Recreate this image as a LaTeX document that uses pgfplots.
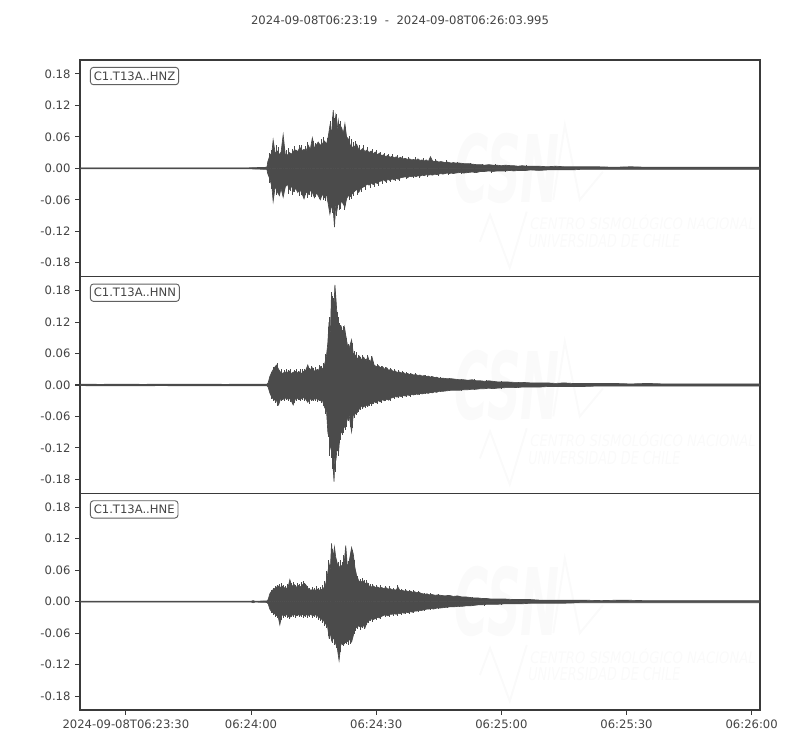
\documentclass[border=0pt]{standalone}
\usepackage{fontspec}
\setmainfont{DejaVu Sans}
\usepackage{pgfplots}
\usepackage{pgfplotstable}
\pgfplotsset{compat=1.18}

\definecolor{wave}{HTML}{4B4B4B}
\definecolor{txtc}{HTML}{444444}
\definecolor{framec}{HTML}{3A3A3A}
\definecolor{wmc}{HTML}{FAFAFA}
\newcommand{\tfont}{\fontsize{8.7}{10}\selectfont}

% seconds after 06:23:19, upper and lower envelope of each trace
\pgfplotstableread{
t up lo
0 0.0008 -0.0008
10 0.0008 -0.0008
20 0.0008 -0.0008
30 0.0008 -0.0008
40 0.0008 -0.0008
44.8 0.002 -0.002
45.0 0.012 -0.010
45.5 0.024 -0.020
46.0 0.030 -0.035
46.3 0.054 -0.063
46.8 0.028 -0.034
47.3 0.033 -0.045
47.8 0.026 -0.052
48.2 0.031 -0.038
48.7 0.064 -0.055
49.2 0.027 -0.036
49.7 0.025 -0.030
50.2 0.030 -0.040
50.7 0.027 -0.034
51.2 0.033 -0.044
51.7 0.035 -0.038
52.2 0.032 -0.046
52.7 0.040 -0.040
53.2 0.034 -0.048
53.7 0.036 -0.058
54.2 0.033 -0.044
54.7 0.044 -0.050
55.2 0.036 -0.042
55.7 0.058 -0.046
56.2 0.038 -0.056
56.7 0.045 -0.047
57.1 0.050 -0.052
57.6 0.044 -0.060
58.1 0.047 -0.049
58.6 0.052 -0.056
59.1 0.046 -0.050
59.5 0.060 -0.068
59.9 0.081 -0.087
60.3 0.066 -0.072
60.7 0.111 -0.078
61.0 0.080 -0.112
61.3 0.100 -0.070
61.6 0.072 -0.080
61.9 0.092 -0.066
62.3 0.070 -0.072
62.7 0.078 -0.062
63.1 0.066 -0.068
63.5 0.085 -0.074
63.9 0.060 -0.058
64.3 0.056 -0.052
64.8 0.044 -0.054
65.3 0.040 -0.048
65.8 0.042 -0.044
66.3 0.046 -0.040
66.8 0.036 -0.046
67.3 0.034 -0.038
67.8 0.038 -0.036
68.3 0.032 -0.034
68.8 0.035 -0.030
69.3 0.030 -0.032
69.8 0.033 -0.028
70.3 0.028 -0.031
70.8 0.031 -0.027
71.3 0.026 -0.029
71.8 0.029 -0.025
72.3 0.024 -0.024
72.8 0.026 -0.022
73.3 0.022 -0.025
73.8 0.025 -0.021
74.3 0.021 -0.023
74.8 0.023 -0.020
75.3 0.020 -0.022
75.8 0.022 -0.019
76.3 0.019 -0.021
76.8 0.021 -0.018
77.5 0.018 -0.017
78.0 0.019 -0.016
78.5 0.017 -0.018
79.0 0.018 -0.015
79.5 0.016 -0.016
80.0 0.017 -0.014
80.5 0.015 -0.016
81.0 0.018 -0.014
81.5 0.015 -0.015
82.0 0.016 -0.013
82.5 0.014 -0.014
83.0 0.016 -0.012
83.5 0.013 -0.013
84.0 0.022 -0.012
84.5 0.014 -0.013
85.0 0.013 -0.011
85.5 0.014 -0.012
86.0 0.012 -0.011
86.5 0.013 -0.010
87.0 0.012 -0.011
87.5 0.011 -0.010
88.0 0.012 -0.009
88.5 0.011 -0.010
89.0 0.010 -0.009
89.5 0.011 -0.010
90.0 0.010 -0.009
91 0.010 -0.008
92 0.009 -0.009
93 0.009 -0.008
94 0.008 -0.007
95 0.007 -0.008
96 0.007 -0.006
97 0.006 -0.006
98 0.007 -0.005
99 0.006 -0.006
100 0.006 -0.005
101 0.005 -0.005
102 0.006 -0.005
103 0.005 -0.004
104 0.005 -0.005
105 0.004 -0.004
106 0.005 -0.004
107 0.004 -0.004
108 0.004 -0.003
110 0.004 -0.004
112 0.003 -0.003
114 0.004 -0.003
116 0.003 -0.003
118 0.003 -0.003
120 0.003 -0.002
124 0.003 -0.002
128 0.002 -0.002
132 0.003 -0.002
136 0.002 -0.002
140 0.002 -0.002
150 0.002 -0.002
163 0.002 -0.002
}\hnz

% single peaks of HNZ
\pgfplotstableread{
t y
45.3 0.030
45.8 0.035
47.0 0.045
47.6 0.040
49.0 0.038
49.5 0.034
50.0 0.038
51.0 0.036
51.5 0.042
52.5 0.045
53.0 0.044
54.0 0.042
54.5 0.050
55.5 0.047
56.0 0.052
56.5 0.048
57.8 0.056
58.4 0.060
59.3 0.058
60.1 0.090
60.5 0.098
61.1 0.095
61.5 0.104
62.1 0.085
62.5 0.090
63.3 0.080
63.7 0.078
64.5 0.062
65.0 0.055
65.5 0.050
66.0 0.052
67.0 0.045
68.0 0.044
69.0 0.040
70.0 0.037
71.0 0.035
72.0 0.031
73.0 0.030
74.0 0.028
75.0 0.027
76.0 0.025
77.2 0.023
78.8 0.022
80.3 0.021
82.2 0.019
85.3 0.017
87.8 0.015
90.5 0.013
93.5 0.011
96.5 0.009
99.5 0.008
103 0.007
107 0.006
45.3 -0.028
45.8 -0.040
47.0 -0.050
47.5 -0.048
48.5 -0.046
49.0 -0.044
50.0 -0.048
50.5 -0.043
51.0 -0.050
51.5 -0.045
52.5 -0.052
53.0 -0.050
54.0 -0.050
54.5 -0.056
55.0 -0.050
55.5 -0.054
56.5 -0.054
57.3 -0.058
58.3 -0.060
58.8 -0.062
59.7 -0.080
60.5 -0.085
60.9 -0.100
61.4 -0.090
62.1 -0.080
62.5 -0.078
63.3 -0.080
63.7 -0.070
64.5 -0.060
65.0 -0.058
65.5 -0.052
66.5 -0.050
67.5 -0.045
68.5 -0.042
69.5 -0.038
70.5 -0.036
71.5 -0.033
72.5 -0.030
73.5 -0.028
74.5 -0.026
75.5 -0.025
76.5 -0.024
78.2 -0.021
79.8 -0.019
81.3 -0.018
83.2 -0.016
85.8 -0.014
88.2 -0.012
91.5 -0.011
94.5 -0.009
98.5 -0.008
102 -0.007
106 -0.006
}\hnzpk

\pgfplotstableread{
t up lo
0 0.0015 -0.0012
5 0.0012 -0.0015
10 0.0016 -0.0013
15 0.0012 -0.0014
20 0.0015 -0.0012
25 0.0013 -0.0016
30 0.0015 -0.0013
35 0.0012 -0.0015
40 0.0016 -0.0013
44.8 0.0015 -0.0015
45.1 0.004 -0.004
45.5 0.016 -0.015
46.0 0.025 -0.024
46.5 0.032 -0.028
47.1 0.038 -0.030
47.6 0.030 -0.038
48.1 0.024 -0.026
48.6 0.022 -0.028
49.1 0.025 -0.024
49.6 0.023 -0.027
50.1 0.027 -0.025
50.6 0.022 -0.029
51.1 0.024 -0.038
51.6 0.026 -0.027
52.1 0.023 -0.025
52.6 0.025 -0.028
53.1 0.022 -0.026
53.6 0.026 -0.024
54.1 0.028 -0.027
54.6 0.038 -0.033
55.1 0.027 -0.026
55.6 0.034 -0.029
56.1 0.026 -0.027
56.6 0.029 -0.026
57.1 0.027 -0.028
57.6 0.035 -0.030
58.1 0.030 -0.029
58.6 0.038 -0.042
59.1 0.057 -0.050
59.4 0.080 -0.089
59.7 0.120 -0.075
60.0 0.095 -0.120
60.3 0.177 -0.110
60.6 0.130 -0.150
60.9 0.150 -0.184
61.1 0.191 -0.130
61.4 0.159 -0.140
61.7 0.120 -0.110
62.0 0.110 -0.127
62.3 0.095 -0.095
62.7 0.110 -0.090
63.0 0.090 -0.085
63.4 0.110 -0.080
63.7 0.095 -0.076
64.1 0.076 -0.065
64.5 0.070 -0.057
65.1 0.086 -0.089
65.5 0.060 -0.058
66.0 0.057 -0.055
66.5 0.050 -0.052
67.0 0.055 -0.045
67.5 0.048 -0.040
68.0 0.053 -0.042
68.5 0.045 -0.038
69.0 0.054 -0.040
69.5 0.042 -0.035
70.0 0.053 -0.036
70.5 0.038 -0.032
71.0 0.035 -0.034
71.5 0.037 -0.030
72.0 0.033 -0.032
72.5 0.035 -0.028
73.0 0.030 -0.030
73.5 0.033 -0.027
74.0 0.028 -0.029
74.5 0.030 -0.025
75.0 0.026 -0.024
75.5 0.027 -0.022
76.0 0.024 -0.023
76.5 0.025 -0.021
77.0 0.023 -0.022
77.5 0.024 -0.020
78.0 0.021 -0.021
78.5 0.022 -0.019
79.0 0.020 -0.020
79.5 0.021 -0.018
80.0 0.019 -0.019
80.5 0.020 -0.017
81.0 0.018 -0.018
81.5 0.019 -0.016
82.0 0.017 -0.017
82.5 0.018 -0.016
83.0 0.016 -0.015
83.5 0.017 -0.016
84.0 0.015 -0.014
84.5 0.016 -0.015
85.0 0.014 -0.013
85.5 0.015 -0.014
86.0 0.013 -0.012
87.0 0.013 -0.012
88.0 0.012 -0.011
89.0 0.012 -0.010
90.0 0.011 -0.010
91 0.010 -0.010
92 0.010 -0.009
93 0.009 -0.009
94 0.010 -0.008
95 0.008 -0.008
96 0.008 -0.007
97 0.007 -0.007
98 0.008 -0.006
99 0.007 -0.007
100 0.006 -0.006
102 0.006 -0.005
104 0.005 -0.005
106 0.005 -0.004
108 0.004 -0.004
110 0.004 -0.004
112 0.004 -0.003
114 0.003 -0.003
116 0.004 -0.003
118 0.003 -0.003
120 0.003 -0.003
124 0.003 -0.002
128 0.003 -0.002
132 0.002 -0.002
136 0.003 -0.002
140 0.002 -0.002
150 0.002 -0.002
163 0.002 -0.002
}\hnn

% single peaks of HNN
\pgfplotstableread{
t y
45.8 0.024
46.3 0.034
46.8 0.036
47.4 0.042
48.3 0.030
48.9 0.028
49.4 0.030
49.9 0.029
50.4 0.030
51.3 0.028
51.9 0.030
52.4 0.027
52.9 0.030
53.4 0.030
53.9 0.031
54.4 0.035
54.9 0.033
55.4 0.036
55.9 0.032
56.4 0.034
56.9 0.031
57.4 0.038
57.9 0.036
58.4 0.042
58.9 0.060
59.6 0.110
59.9 0.130
60.2 0.160
60.5 0.170
60.8 0.165
61.3 0.175
61.6 0.140
61.9 0.130
62.2 0.118
62.5 0.115
62.9 0.105
63.2 0.112
63.6 0.100
63.9 0.090
64.3 0.078
64.8 0.075
65.3 0.080
65.8 0.065
66.3 0.062
66.8 0.058
67.3 0.054
67.8 0.058
68.3 0.050
68.8 0.057
69.3 0.048
69.8 0.055
70.3 0.043
71.3 0.040
72.3 0.037
73.3 0.035
74.3 0.032
75.3 0.030
76.3 0.028
77.3 0.026
78.3 0.024
79.3 0.023
80.3 0.022
81.3 0.020
82.8 0.019
84.3 0.017
86.5 0.015
88.5 0.014
91.5 0.012
94.5 0.011
97.5 0.009
101 0.008
105 0.006
45.8 -0.026
46.3 -0.030
46.8 -0.034
47.3 -0.040
48.3 -0.030
48.9 -0.031
49.4 -0.029
49.9 -0.030
50.4 -0.032
50.9 -0.036
51.3 -0.035
51.9 -0.030
52.4 -0.029
52.9 -0.031
53.4 -0.029
53.9 -0.030
54.4 -0.032
54.9 -0.036
55.4 -0.030
55.9 -0.031
56.4 -0.030
56.9 -0.032
57.4 -0.031
57.9 -0.034
58.4 -0.040
58.9 -0.055
59.2 -0.075
59.6 -0.100
59.9 -0.135
60.2 -0.140
60.5 -0.160
60.8 -0.170
61.2 -0.165
61.6 -0.125
61.9 -0.135
62.2 -0.110
62.5 -0.105
62.9 -0.095
63.2 -0.092
63.6 -0.085
63.9 -0.080
64.3 -0.068
64.8 -0.080
65.3 -0.082
65.8 -0.062
66.3 -0.058
66.8 -0.052
67.3 -0.048
67.8 -0.046
68.3 -0.044
68.8 -0.042
69.3 -0.040
69.8 -0.040
70.3 -0.036
71.3 -0.036
72.3 -0.034
73.3 -0.031
74.3 -0.030
75.3 -0.026
76.3 -0.025
77.3 -0.024
78.3 -0.022
79.3 -0.022
80.3 -0.020
81.3 -0.019
82.8 -0.018
84.3 -0.016
86.5 -0.013
88.5 -0.012
91.5 -0.011
94.5 -0.009
97.5 -0.008
101 -0.007
105 -0.005
}\hnnpk

\pgfplotstableread{
t up lo
0 0.0008 -0.0008
10 0.0008 -0.0008
20 0.0008 -0.0008
30 0.0008 -0.0008
41.0 0.0008 -0.0008
41.5 0.002 -0.002
42.0 0.0008 -0.0008
44.8 0.0015 -0.0015
45.1 0.004 -0.004
45.5 0.015 -0.014
46.0 0.021 -0.020
46.5 0.024 -0.022
47.0 0.027 -0.026
47.5 0.030 -0.028
47.9 0.026 -0.044
48.4 0.030 -0.025
48.9 0.027 -0.027
49.4 0.025 -0.024
49.9 0.028 -0.028
50.3 0.042 -0.030
50.8 0.029 -0.026
51.3 0.033 -0.024
51.8 0.027 -0.027
52.3 0.031 -0.025
52.8 0.028 -0.026
53.3 0.032 -0.024
53.8 0.035 -0.027
54.3 0.030 -0.025
54.8 0.024 -0.026
55.3 0.022 -0.024
55.8 0.023 -0.027
56.3 0.021 -0.025
56.8 0.024 -0.026
57.3 0.022 -0.030
57.8 0.023 -0.033
58.3 0.025 -0.035
58.8 0.030 -0.042
59.3 0.050 -0.045
59.7 0.072 -0.068
60.0 0.060 -0.060
60.3 0.111 -0.074
60.6 0.080 -0.065
61.0 0.104 -0.074
61.3 0.085 -0.080
61.7 0.072 -0.090
62.1 0.065 -0.112
62.5 0.070 -0.083
63.0 0.065 -0.075
63.4 0.080 -0.080
63.7 0.107 -0.070
64.1 0.065 -0.076
64.6 0.080 -0.072
65.1 0.103 -0.077
65.5 0.091 -0.065
65.9 0.065 -0.052
66.3 0.050 -0.049
66.8 0.040 -0.046
67.3 0.037 -0.049
67.8 0.040 -0.044
68.3 0.035 -0.050
68.8 0.036 -0.040
69.3 0.030 -0.036
69.8 0.028 -0.033
70.3 0.030 -0.034
70.8 0.027 -0.032
71.3 0.028 -0.030
71.8 0.026 -0.031
72.3 0.027 -0.028
72.8 0.025 -0.026
73.3 0.027 -0.025
73.8 0.024 -0.027
74.3 0.025 -0.024
74.8 0.023 -0.024
75.3 0.023 -0.023
75.8 0.022 -0.024
76.2 0.028 -0.022
76.7 0.021 -0.023
77.2 0.022 -0.021
77.7 0.020 -0.022
78.2 0.021 -0.020
78.7 0.019 -0.021
79.2 0.020 -0.019
79.7 0.018 -0.020
80.2 0.019 -0.018
80.7 0.017 -0.018
81.2 0.018 -0.017
81.7 0.016 -0.017
82.2 0.015 -0.016
82.7 0.014 -0.015
83.2 0.015 -0.014
83.7 0.013 -0.014
84.2 0.014 -0.013
84.7 0.013 -0.014
85.2 0.012 -0.013
85.7 0.013 -0.012
86.5 0.012 -0.012
87.5 0.011 -0.011
88.5 0.012 -0.010
89.5 0.010 -0.010
90.5 0.011 -0.009
91.5 0.009 -0.009
92.5 0.009 -0.008
93.5 0.008 -0.008
94.5 0.007 -0.007
95.5 0.007 -0.006
96.5 0.006 -0.006
97.5 0.006 -0.005
98.5 0.005 -0.005
100 0.005 -0.005
102 0.005 -0.004
104 0.004 -0.004
106 0.004 -0.004
108 0.004 -0.003
110 0.003 -0.003
113 0.003 -0.003
116 0.003 -0.003
120 0.003 -0.002
125 0.002 -0.002
130 0.003 -0.002
135 0.002 -0.002
140 0.002 -0.002
150 0.002 -0.002
163 0.002 -0.002
}\hne

% single peaks of HNE
\pgfplotstableread{
t y
45.8 0.023
46.3 0.026
46.8 0.030
47.3 0.032
47.7 0.034
48.2 0.035
48.7 0.032
49.2 0.030
49.7 0.033
50.1 0.036
50.6 0.035
51.1 0.037
51.6 0.032
52.1 0.036
52.6 0.033
53.1 0.037
53.6 0.040
54.1 0.034
54.6 0.030
55.1 0.027
55.6 0.028
56.1 0.026
56.6 0.029
57.1 0.026
57.6 0.028
58.1 0.032
58.6 0.040
59.1 0.058
59.5 0.080
59.9 0.070
60.2 0.095
60.5 0.100
60.8 0.092
61.1 0.098
61.5 0.080
61.9 0.075
62.3 0.080
62.8 0.075
63.2 0.088
63.5 0.100
63.9 0.085
64.3 0.078
64.8 0.090
65.3 0.098
65.7 0.080
66.1 0.058
66.6 0.048
67.1 0.044
67.6 0.046
68.1 0.042
68.6 0.041
69.1 0.036
69.6 0.033
70.1 0.034
71.1 0.032
72.1 0.031
73.1 0.030
74.1 0.029
75.1 0.027
76.0 0.031
77.0 0.025
78.0 0.024
79.0 0.023
80.0 0.022
81.0 0.020
82.5 0.017
84.0 0.016
86.0 0.014
88.0 0.013
91.0 0.011
94.0 0.009
97.0 0.007
101 0.006
105 0.005
45.8 -0.022
46.3 -0.025
46.8 -0.029
47.3 -0.032
47.7 -0.038
48.2 -0.034
48.7 -0.031
49.2 -0.029
49.7 -0.031
50.1 -0.033
50.6 -0.030
51.1 -0.029
51.6 -0.031
52.1 -0.028
52.6 -0.030
53.1 -0.029
53.6 -0.031
54.1 -0.030
54.6 -0.031
55.1 -0.029
55.6 -0.031
56.1 -0.030
56.6 -0.031
57.1 -0.034
57.6 -0.037
58.1 -0.040
58.6 -0.046
59.1 -0.050
59.5 -0.066
59.9 -0.072
60.2 -0.070
60.5 -0.078
60.8 -0.072
61.1 -0.082
61.5 -0.088
61.9 -0.100
62.3 -0.095
62.8 -0.082
63.2 -0.085
63.5 -0.078
63.9 -0.080
64.3 -0.082
64.8 -0.080
65.3 -0.070
65.7 -0.062
66.1 -0.055
66.6 -0.052
67.1 -0.054
67.6 -0.050
68.1 -0.053
68.6 -0.045
69.1 -0.040
69.6 -0.037
70.1 -0.038
71.1 -0.035
72.1 -0.033
73.1 -0.030
74.1 -0.029
75.1 -0.027
76.0 -0.027
77.0 -0.026
78.0 -0.024
79.0 -0.023
80.0 -0.022
81.0 -0.020
82.5 -0.018
84.0 -0.016
86.0 -0.014
88.0 -0.013
91.0 -0.011
94.0 -0.009
97.0 -0.008
101 -0.006
105 -0.005
}\hnepk

\pgfplotsset{
  seis/.style={
    scale only axis, width=510pt, height=162.5pt,
    xmin=0, xmax=163, ymin=-0.2065, ymax=0.2065,
    axis line style={color=framec, line width=0.8pt},
    tick style={color=framec, line width=0.8pt},
    major tick length=3.6pt,
    tick align=outside, tick pos=left,
    ytick={-0.18,-0.12,-0.06,0,0.06,0.12,0.18},
    yticklabel style={/pgf/number format/.cd, fixed, fixed zerofill, precision=2},
    /pgf/number format/assume math mode=true,
    ticklabel style={font=\tfont, text=txtc},
  },
  env/.style={color=wave, fill=wave, line width=0.5pt},
  pk/.style={color=wave, ycomb, line width=0.6pt, mark=none},
}
\tikzset{
  lab/.style={draw=black!62, line width=0.7pt, rounded corners=2.2pt, fill=white,
    font=\tfont, text=txtc, inner xsep=2.5pt, inner ysep=3.2pt, anchor=north west},
}

\newcommand{\watermark}{%
  \node[text=wmc, font=\bfseries\itshape] at (rel axis cs:0.628,0.50)
    {\resizebox{79pt}{52pt}{CSN}};
  \draw[color=wmc, line width=1.5pt] (rel axis cs:0.588,0.161) -- (rel axis cs:0.603,0.286)
    -- (rel axis cs:0.632,0.041) -- (rel axis cs:0.657,0.300);
  \draw[color=wmc, line width=1.5pt] (rel axis cs:0.696,0.355) -- (rel axis cs:0.713,0.700)
    -- (rel axis cs:0.735,0.355) -- (rel axis cs:0.769,0.484);
  \node[text=wmc, font=\itshape, anchor=west, inner sep=0pt] at (rel axis cs:0.662,0.249)
    {\resizebox{169pt}{11pt}{CENTRO SISMOLÓGICO NACIONAL}};
  \node[text=wmc, font=\itshape, anchor=west, inner sep=0pt] at (rel axis cs:0.659,0.165)
    {\resizebox{114pt}{10pt}{UNIVERSIDAD DE CHILE}};
}

\begin{document}
\begin{tikzpicture}
\useasboundingbox (0pt,0pt) rectangle (600pt,562.5pt);
\node[font=\tfont, text=txtc] at (300pt,547.5pt)
  {2024-09-08T06:23:19\ \ -\ \ 2024-09-08T06:26:03.995};

\begin{axis}[seis, at={(60pt,355pt)}, anchor=south west, xtick=\empty]
  \watermark
  \addplot[env] table[x=t, y=up] {\hnz} \closedcycle;
  \addplot[env] table[x=t, y=lo] {\hnz} \closedcycle;
  \addplot[pk] table[x=t, y=y] {\hnzpk};
  \node[lab] at (rel axis cs:0.0147,0.968) {C1.T13A..HNZ};
\end{axis}

\begin{axis}[seis, at={(60pt,192.5pt)}, anchor=south west, xtick=\empty]
  \watermark
  \addplot[env] table[x=t, y=up] {\hnn} \closedcycle;
  \addplot[env] table[x=t, y=lo] {\hnn} \closedcycle;
  \addplot[pk] table[x=t, y=y] {\hnnpk};
  \node[lab] at (rel axis cs:0.0147,0.968) {C1.T13A..HNN};
\end{axis}

\begin{axis}[seis, at={(60pt,30pt)}, anchor=south west,
  xtick={11,41,71,101,131,161},
  xticklabels={2024-09-08T06:23:30, 06:24:00, 06:24:30, 06:25:00, 06:25:30, 06:26:00}]
  \watermark
  \addplot[env] table[x=t, y=up] {\hne} \closedcycle;
  \addplot[env] table[x=t, y=lo] {\hne} \closedcycle;
  \addplot[pk] table[x=t, y=y] {\hnepk};
  \node[lab] at (rel axis cs:0.0147,0.968) {C1.T13A..HNE};
\end{axis}
\end{tikzpicture}
\end{document}
